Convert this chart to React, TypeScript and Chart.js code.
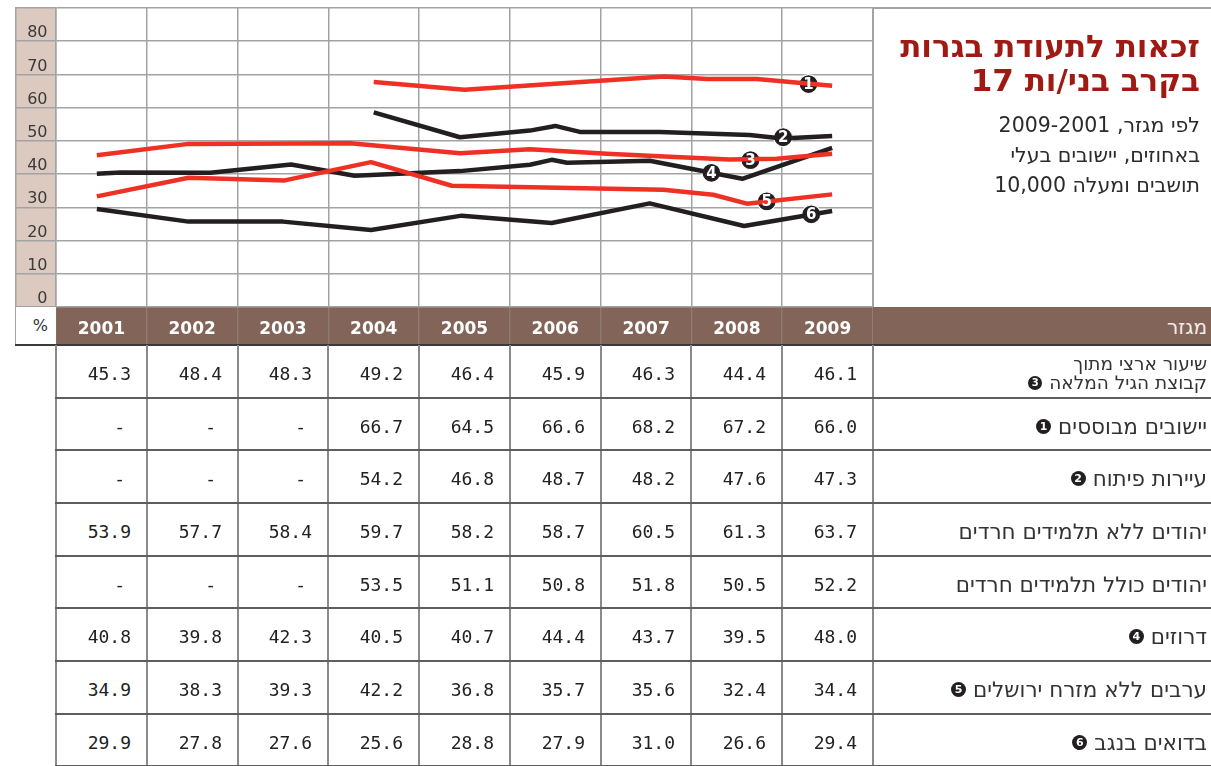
import React, { useEffect, useRef } from "react";
import { Chart, registerables } from "chart.js";

Chart.register(...registerables);

// ---------- data ----------
const YEARS = ["2001", "2002", "2003", "2004", "2005", "2006", "2007", "2008", "2009"];

// line traces: [year position, percent]
const LINE1_ESTABLISHED: [number, number][] = [
  [2004.0, 67.7], [2005.0, 65.4], [2007.2, 69.4], [2007.67, 68.6], [2008.22, 68.6], [2009.05, 66.6],
];
const LINE2_DEV_TOWNS: [number, number][] = [
  [2004.0, 58.6], [2004.95, 51.1], [2005.72, 53.1], [2006.0, 54.5], [2006.27, 52.7],
  [2007.15, 52.7], [2008.14, 51.8], [2008.5, 50.7], [2009.05, 51.5],
];
const LINE3_NATIONAL: [number, number][] = [
  [2000.95, 45.7], [2001.96, 49.1], [2003.74, 49.3], [2004.95, 46.3], [2005.72, 47.5],
  [2006.57, 46.1], [2007.26, 45.2], [2007.92, 44.4], [2008.44, 44.6], [2009.05, 46.1],
];
const LINE4_DRUZE: [number, number][] = [
  [2000.95, 40.1], [2001.21, 40.5], [2002.2, 40.4], [2003.09, 42.9], [2003.79, 39.5],
  [2004.95, 40.9], [2005.72, 42.8], [2005.96, 44.3], [2006.13, 43.4], [2007.04, 44.0],
  [2008.06, 38.6], [2009.05, 47.9],
];
const LINE5_ARABS: [number, number][] = [
  [2000.95, 33.3], [2001.96, 38.9], [2003.02, 38.1], [2003.97, 43.6], [2004.86, 36.5],
  [2007.19, 35.3], [2007.74, 33.8], [2008.11, 31.1], [2009.05, 33.9],
];
const LINE6_BEDOUIN: [number, number][] = [
  [2000.95, 29.5], [2001.96, 25.7], [2003.0, 25.7], [2003.97, 23.2], [2004.97, 27.5],
  [2005.96, 25.3], [2007.04, 31.2], [2008.08, 24.4], [2009.05, 28.9],
];

// numbered markers on the lines
const MARKER_LABELS = ["1", "2", "3", "4", "5", "6"];
const MARKER_YEARS = [2008.79, 2008.51, 2008.15, 2007.72, 2008.33, 2008.82];
const MARKER_VALUES = [67.1, 51.1, 44.2, 40.4, 31.8, 27.9];

// table values
const T_NATIONAL = [45.3, 48.4, 48.3, 49.2, 46.4, 45.9, 46.3, 44.4, 46.1];
const T_ESTABLISHED = [null, null, null, 66.7, 64.5, 66.6, 68.2, 67.2, 66.0];
const T_DEV_TOWNS = [null, null, null, 54.2, 46.8, 48.7, 48.2, 47.6, 47.3];
const T_JEWS_NO_HAREDI = [53.9, 57.7, 58.4, 59.7, 58.2, 58.7, 60.5, 61.3, 63.7];
const T_JEWS_WITH_HAREDI = [null, null, null, 53.5, 51.1, 50.8, 51.8, 50.5, 52.2];
const T_DRUZE = [40.8, 39.8, 42.3, 40.5, 40.7, 44.4, 43.7, 39.5, 48.0];
const T_ARABS = [34.9, 38.3, 39.3, 42.2, 36.8, 35.7, 35.6, 32.4, 34.4];
const T_BEDOUIN = [29.9, 27.8, 27.6, 25.6, 28.8, 27.9, 31.0, 26.6, 29.4];

const TITLE_LINES = ["זכאות לתעודת בגרות", "בקרב בני/ות 17"];
const SUBTITLE_LINES = ["לפי מגזר, 2009-2001", "באחוזים, יישובים בעלי", "10,000 תושבים ומעלה"];
const HEADER_LABEL = "מגזר";

type Row = { label: string[]; marker?: string; values: (number | null)[] };
const ROWS: Row[] = [
  { label: ["שיעור ארצי מתוך", "קבוצת הגיל המלאה"], marker: "3", values: T_NATIONAL },
  { label: ["יישובים מבוססים"], marker: "1", values: T_ESTABLISHED },
  { label: ["עיירות פיתוח"], marker: "2", values: T_DEV_TOWNS },
  { label: ["יהודים ללא תלמידים חרדים"], values: T_JEWS_NO_HAREDI },
  { label: ["יהודים כולל תלמידים חרדים"], values: T_JEWS_WITH_HAREDI },
  { label: ["דרוזים"], marker: "4", values: T_DRUZE },
  { label: ["ערבים ללא מזרח ירושלים"], marker: "5", values: T_ARABS },
  { label: ["בדואים בנגב"], marker: "6", values: T_BEDOUIN },
];

// ---------- style ----------
const RED = "#ee3124";
const BLACK = "#231f20";
const BROWN = "#836458";
const BEIGE = "#dccac0";
const GRID = "#a3a3a3";
const FONT = "'DejaVu Sans', sans-serif";
const MONO = "'DejaVu Sans Mono', monospace";

const LEFT = 15;
const PLOT_L = 56;
const PLOT_R = 873;
const TOP = 7;
const HEADER_TOP = 307;
const HEADER_BOTTOM = 345;
const ROW_H = 52.65;
const COL_W = (PLOT_R - PLOT_L) / 9;

function toXY(arr: [number, number][]) {
  return arr.map(([x, y]) => ({ x, y }));
}

function Marker({ n, size = 15 }: { n: string; size?: number }) {
  return (
    <span
      style={{
        display: "inline-block",
        width: size,
        height: size,
        borderRadius: "50%",
        background: BLACK,
        color: "#fff",
        fontFamily: FONT,
        fontWeight: "bold",
        fontSize: size - 4,
        lineHeight: size + "px",
        textAlign: "center",
        verticalAlign: "middle",
        margin: "0 7px 0 6px",
        position: "relative",
        top: -1,
      }}
    >
      {n}
    </span>
  );
}

export default function App() {
  const ref = useRef<HTMLCanvasElement>(null);

  useEffect(() => {
    if (!ref.current) return;
    const lineDs = (data: [number, number][], color: string) => ({
      type: "line" as const,
      data: toXY(data),
      xAxisID: "xd",
      yAxisID: "y",
      borderColor: color,
      borderWidth: 4.5,
      pointRadius: 0,
      tension: 0,
      fill: false,
      borderJoinStyle: "round" as const,
    });
    const markerIndex = 6;
    const bgPlugin = {
      id: "bgPlugin",
      beforeDraw(chart: any) {
        const { ctx, chartArea, scales } = chart;
        const y = scales.y;
        const x = scales.x;
        ctx.save();
        ctx.fillStyle = BEIGE;
        ctx.fillRect(y.left, chartArea.top, y.right - y.left, chartArea.bottom - chartArea.top);
        ctx.fillStyle = BROWN;
        ctx.fillRect(chartArea.left, x.top, chartArea.right - chartArea.left, x.bottom - x.top);
        ctx.strokeStyle = GRID;
        ctx.lineWidth = 1.5;
        ctx.beginPath();
        ctx.moveTo(y.left + 0.75, chartArea.top);
        ctx.lineTo(y.left + 0.75, chartArea.bottom);
        ctx.stroke();
        ctx.restore();
      },
      afterDatasetsDraw(chart: any) {
        const { ctx } = chart;
        const meta = chart.getDatasetMeta(markerIndex);
        ctx.save();
        ctx.fillStyle = "#fff";
        ctx.font = `bold 15px ${FONT}`;
        ctx.textAlign = "center";
        ctx.textBaseline = "middle";
        meta.data.forEach((pt: any, i: number) => {
          ctx.fillText(MARKER_LABELS[i], pt.x, pt.y + 1);
        });
        ctx.restore();
      },
    };

    const chart = new Chart(ref.current, {
      type: "line",
      data: {
        labels: YEARS,
        datasets: [
          lineDs(LINE1_ESTABLISHED, RED),
          lineDs(LINE3_NATIONAL, RED),
          lineDs(LINE5_ARABS, RED),
          lineDs(LINE2_DEV_TOWNS, BLACK),
          lineDs(LINE4_DRUZE, BLACK),
          lineDs(LINE6_BEDOUIN, BLACK),
          {
            type: "line" as const,
            data: MARKER_YEARS.map((x, i) => ({ x, y: MARKER_VALUES[i] })),
            xAxisID: "xd",
            yAxisID: "y",
            showLine: false,
            pointRadius: 9.5,
            pointBackgroundColor: BLACK,
            pointBorderColor: "#fff",
            pointBorderWidth: 1.2,
          } as any,
        ],
      },
      options: {
        animation: false,
        responsive: false,
        maintainAspectRatio: false,
        layout: { autoPadding: false, padding: { top: 1, right: 1, bottom: 1, left: 0 } },
        plugins: { legend: { display: false }, tooltip: { enabled: false } },
        scales: {
          x: {
            type: "category",
            position: "bottom",
            offset: true,
            grid: {
              offset: true,
              color: GRID,
              lineWidth: 1.5,
              drawTicks: true,
              tickLength: 38,
              tickColor: "#95847d",
              tickWidth: 1,
            },
            border: { display: false },
            ticks: {
              color: "#ffffff",
              font: { family: "'DejaVu Sans', sans-serif", weight: "bold", size: 17 },
              padding: -26,
              maxRotation: 0,
              autoSkip: false,
            },
            afterFit: (s: any) => {
              s.height = 38;
            },
          },
          xd: {
            type: "linear",
            display: false,
            min: 2000.5,
            max: 2009.5,
          },
          y: {
            type: "linear",
            position: "left",
            min: 0,
            max: 90,
            grid: { color: GRID, lineWidth: 1.5, tickLength: 41, tickColor: GRID },
            border: { display: true, color: GRID, width: 1.5 },
            ticks: {
              stepSize: 10,
              callback: (v: any) => (Number(v) === 90 ? "" : String(v)),
              labelOffset: -8,
              padding: -32.5,
              color: "#3a3a3a",
              font: { family: "'DejaVu Sans', sans-serif", size: 16, lineHeight: 0.1 },
            },
            afterFit: (s: any) => {
              s.width = 41;
            },
          },
        },
      } as any,
      plugins: [bgPlugin],
    });
    return () => chart.destroy();
  }, []);

  const tableTop = HEADER_BOTTOM;
  const colLeft = (c: number) => Math.round(PLOT_L + c * COL_W);
  const lineEls: React.ReactNode[] = [];
  // vertical column lines in table
  for (let k = 0; k <= 9; k++) {
    lineEls.push(
      <div
        key={"v" + k}
        style={{
          position: "absolute",
          left: colLeft(k) - 1,
          top: tableTop,
          width: 2,
          height: 766 - tableTop,
          background: "#8a8a8a",
        }}
      />
    );
  }
  // horizontal row lines
  for (let i = 1; i <= ROWS.length; i++) {
    lineEls.push(
      <div
        key={"h" + i}
        style={{
          position: "absolute",
          left: PLOT_L - 1,
          top: Math.round(tableTop + i * ROW_H) - 1,
          width: 1211 - PLOT_L + 1,
          height: 2,
          background: "#5e5e5e",
        }}
      />
    );
  }

  return (
    <div
      style={{
        position: "absolute",
        left: 0,
        top: 0,
        width: 1211,
        height: 766,
        background: "#fff",
        overflow: "hidden",
        fontFamily: FONT,
      }}
    >
      <canvas
        ref={ref}
        width={859}
        height={339}
        style={{ position: "absolute", left: LEFT, top: TOP, width: 859, height: 339 }}
      />
      {/* top border extension */}
      <div style={{ position: "absolute", left: PLOT_R, top: 7.25, width: 1211 - PLOT_R, height: 1.5, background: GRID }} />
      {/* vertical separator on the right */}
      <div style={{ position: "absolute", left: PLOT_R - 0.75, top: 8, width: 1.5, height: HEADER_TOP - 8, background: GRID }} />
      {/* % cell */}
      <div
        style={{
          position: "absolute",
          left: LEFT,
          top: HEADER_TOP,
          width: PLOT_L - LEFT,
          height: HEADER_BOTTOM - HEADER_TOP,
          boxSizing: "border-box",
          borderLeft: `1.5px solid ${GRID}`,
          background: "#fff",
          textAlign: "right",
          paddingRight: 8,
          fontSize: 16,
          lineHeight: HEADER_BOTTOM - HEADER_TOP + "px",
          color: "#333",
        }}
      >
        %
      </div>
      {/* header right part */}
      <div
        style={{
          position: "absolute",
          left: PLOT_R,
          top: HEADER_TOP,
          width: 1211 - PLOT_R,
          height: HEADER_BOTTOM - HEADER_TOP,
          background: BROWN,
          color: "#f2ece9",
          direction: "rtl",
          textAlign: "right",
          paddingRight: 4,
          boxSizing: "border-box",
          fontSize: 20,
          lineHeight: HEADER_BOTTOM - HEADER_TOP + 2 + "px",
        }}
      >
        {HEADER_LABEL}
      </div>
      {/* header bottom line */}
      <div style={{ position: "absolute", left: LEFT, top: HEADER_BOTTOM - 1, width: 1211 - LEFT, height: 1.5, background: "#3a3a3a" }} />

      {/* title */}
      <div
        style={{
          position: "absolute",
          left: PLOT_R + 4,
          top: 29,
          width: 1211 - PLOT_R - 15,
          direction: "rtl",
          textAlign: "right",
          color: "#9e1a13",
          fontWeight: "bold",
          fontSize: 31,
          lineHeight: "34px",
        }}
      >
        {TITLE_LINES.map((t, i) => (
          <div key={i}>{t}</div>
        ))}
      </div>
      <div
        style={{
          position: "absolute",
          left: PLOT_R + 4,
          top: 110,
          width: 1211 - PLOT_R - 15,
          direction: "ltr",
          textAlign: "right",
          color: "#2b2b2b",
          fontSize: 20.5,
          lineHeight: "30px",
        }}
      >
        {SUBTITLE_LINES.map((t, i) => (
          <div key={i}>{t}</div>
        ))}
      </div>

      {/* table cells */}
      {ROWS.map((row, r) => {
        const top = Math.round(tableTop + r * ROW_H);
        const multi = row.label.length > 1;
        return (
          <React.Fragment key={r}>
            {row.values.map((v, c) => (
              <div
                key={c}
                style={{
                  position: "absolute",
                  left: colLeft(c),
                  top,
                  width: colLeft(c + 1) - colLeft(c),
                  height: 53,
                  boxSizing: "border-box",
                  paddingRight: v === null ? 22 : 16,
                  textAlign: "right",
                  fontFamily: MONO,
                  fontSize: 18,
                  lineHeight: "57px",
                  color: "#222",
                }}
              >
                {v === null ? "-" : v.toFixed(1)}
              </div>
            ))}
            <div
              style={{
                position: "absolute",
                left: PLOT_R,
                top,
                width: 1211 - PLOT_R,
                height: 53,
                boxSizing: "border-box",
                paddingRight: 4,
                direction: "rtl",
                textAlign: "right",
                color: "#333",
                display: "flex",
                flexDirection: "column",
                justifyContent: "center",
                fontSize: multi ? 18.5 : 21.5,
                lineHeight: multi ? "19px" : "24px",
                paddingTop: multi ? 2 : 4,
                whiteSpace: "nowrap",
              }}
            >
              {row.label.map((t, i) => (
                <div key={i}>
                  {t}
                  {row.marker && i === row.label.length - 1 ? (
                    <Marker n={row.marker} size={multi ? 14 : 15} />
                  ) : null}
                </div>
              ))}
            </div>
          </React.Fragment>
        );
      })}
      {lineEls}
    </div>
  );
}
